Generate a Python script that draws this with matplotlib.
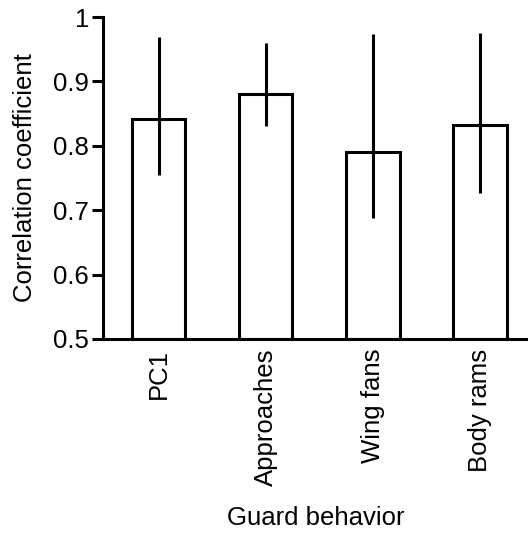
import matplotlib
matplotlib.use("Agg")
import matplotlib.pyplot as plt
import numpy as np

behaviors = ["PC1", "Approaches", "Wing fans", "Body rams"]
corr = [0.841, 0.880, 0.790, 0.832]
err_low = [0.755, 0.831, 0.688, 0.727]
err_high = [0.969, 0.960, 0.974, 0.975]

plt.rcParams['font.family'] = ['Liberation Sans', 'DejaVu Sans']
plt.rcParams['font.size'] = 18.5

fig = plt.figure(figsize=(5.28, 5.33), dpi=100)
ax = fig.add_axes([0.195, 0.364, 0.805, 0.604])

x = np.arange(len(behaviors))
corr = np.array(corr)
yerr = [corr - np.array(err_low), np.array(err_high) - corr]
lw = 2.2
ax.bar(x, corr - 0.5, 0.5, bottom=0.5, color='white', edgecolor='black',
       linewidth=lw, zorder=2)
ax.errorbar(x, corr, yerr=yerr, fmt='none', ecolor='black', elinewidth=lw,
            capsize=0, zorder=3)

ax.set_ylim(0.5, 1.0)
ax.set_xlim(-0.52, 3.45)
ax.set_yticks([0.5, 0.6, 0.7, 0.8, 0.9, 1.0])
ax.set_yticklabels(["0.5", "0.6", "0.7", "0.8", "0.9", "1"])
ax.set_xticks(x)
ax.set_xticklabels(behaviors, rotation=90)
ax.tick_params(axis='x', length=0, pad=7)
ax.tick_params(axis='y', length=8, width=lw, pad=2)
for s in ['top', 'right']:
    ax.spines[s].set_visible(False)
for s in ['left', 'bottom']:
    ax.spines[s].set_linewidth(lw)
ax.set_ylabel("Correlation coefficient", labelpad=12)
ax.set_xlabel("Guard behavior", labelpad=14)

fig.savefig("out.png", dpi=100)
